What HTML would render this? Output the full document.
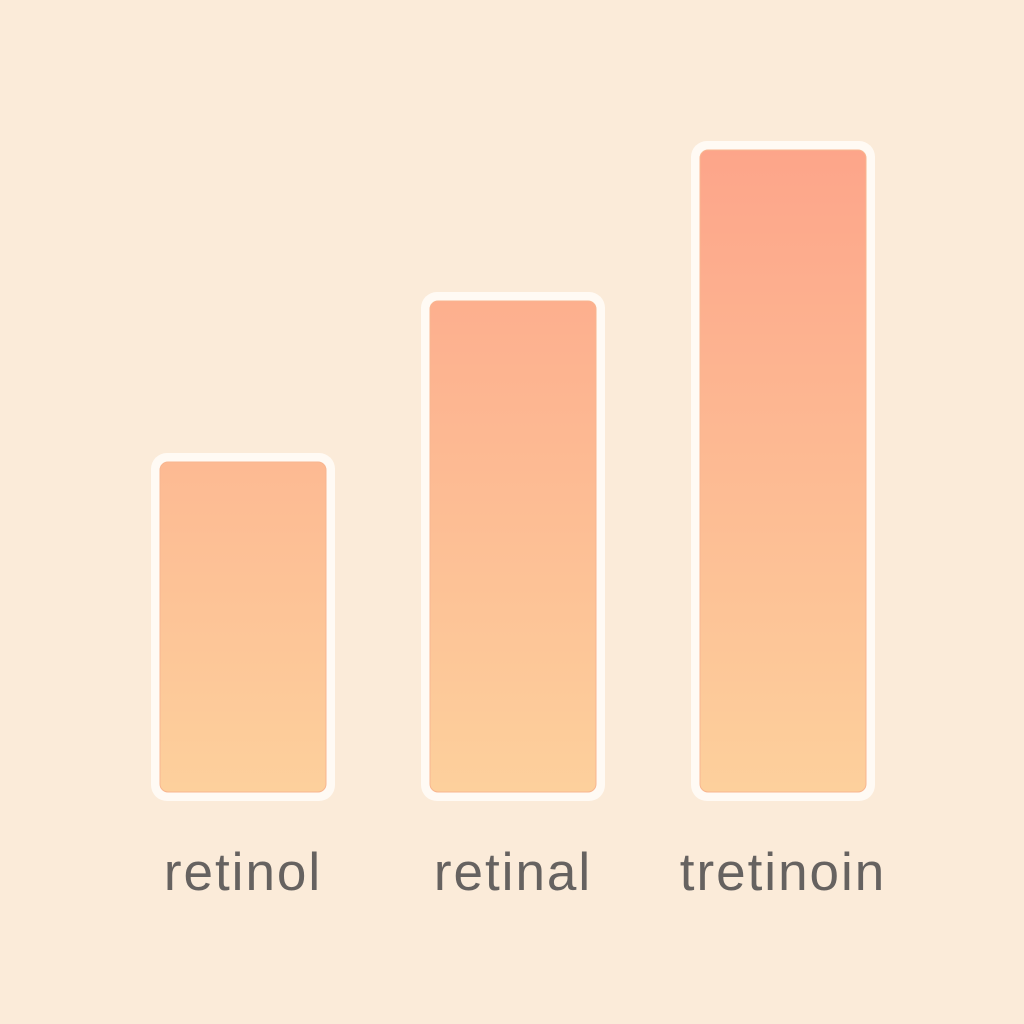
<!DOCTYPE html>
<html><head><meta charset="utf-8"><style>
html,body{margin:0;padding:0;background:#fbebd9;}
svg{display:block}
text{font-family:"Liberation Sans",sans-serif;}
</style></head><body>
<svg id="chart" width="1024" height="1024" viewBox="0 0 1024 1024">
<defs>
<linearGradient id="g" gradientUnits="userSpaceOnUse" x1="0" y1="150" x2="0" y2="792">
<stop offset="0" stop-color="#fda58a"/><stop offset="1" stop-color="#fdd09c"/>
</linearGradient>
</defs>
<rect x="0" y="0" width="1024" height="1024" fill="#fbebd9"/>
<g id="bars"></g>
<g id="labels"></g>
</svg>
<script>
const categories = ["retinol", "retinal", "tretinoin"];
const values = [33, 49.1, 64.2];
const ns = "http://www.w3.org/2000/svg";
const baseY = 792, pxPerUnit = 10;
function yScale(v){ return baseY - v * pxPerUnit; }
function xCenter(i){ return 243 + i * 270; }
const bars = document.getElementById('bars'), labels = document.getElementById('labels');
categories.forEach((c, i) => {
  const cx = xCenter(i), top = yScale(values[i]), w = 166;
  const outer = document.createElementNS(ns, 'rect');
  
  
  outer.setAttribute('x', cx - w/2 - 9); outer.setAttribute('y', top - 9);
  outer.setAttribute('width', w + 18); outer.setAttribute('height', baseY - top + 18);
  outer.setAttribute('rx', 16); outer.setAttribute('fill', '#fffaf4');
  bars.appendChild(outer);
  const r = document.createElementNS(ns, 'rect');
  
  
  r.setAttribute('x', cx - w/2); r.setAttribute('y', top);
  r.setAttribute('width', w); r.setAttribute('height', baseY - top);
  r.setAttribute('rx', 8); r.setAttribute('fill', 'url(#g)');
  r.setAttribute('stroke', '#f8b690'); r.setAttribute('stroke-width', '1');
  bars.appendChild(r);
  const t = document.createElementNS(ns, 'text');
  
  
  t.setAttribute('x', cx); t.setAttribute('y', 890);
  t.setAttribute('text-anchor', 'middle'); t.setAttribute('font-size', '53');
  t.setAttribute('letter-spacing', '2');
  t.setAttribute('fill', '#666260');
  t.textContent = c;
  labels.appendChild(t);
});
</script>
</body></html>
